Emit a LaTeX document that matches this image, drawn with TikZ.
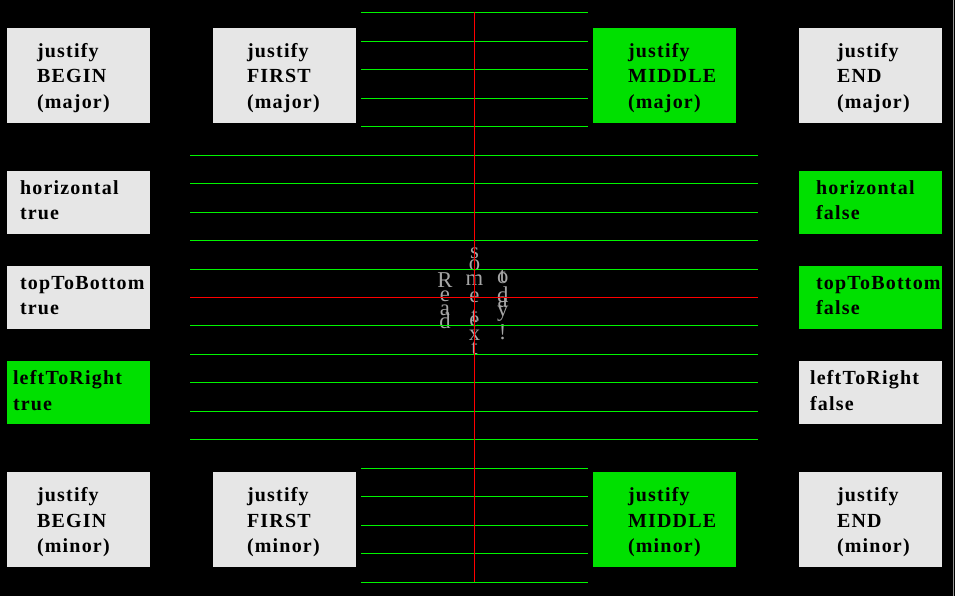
\documentclass[tikz,border=0pt]{standalone}
\usepackage{fontspec}
\setmainfont{Liberation Serif}
\newfontfamily\boxfont{Liberation Serif}[LetterSpace=6]
\usepackage{tikz}

\definecolor{boxgray}{RGB}{230,230,230}
\definecolor{boxgreen}{RGB}{0,224,0}
\definecolor{linegreen}{RGB}{0,245,0}
\definecolor{textgray}{RGB}{165,165,165}
\definecolor{edgegray}{RGB}{150,150,150}

\begin{document}
\begin{tikzpicture}[x=0.75pt,y=-0.75pt,
  offbox/.style={fill=boxgray, minimum width=107.25pt, inner sep=0pt},
  onbox/.style={offbox, fill=boxgreen},
  tallbox/.style={minimum height=71.25pt},
  lowbox/.style={minimum height=47.25pt},
  boxtext/.style={anchor=base west, align=left, inner sep=0pt, font=\boxfont\bfseries\fontsize{15}{19.1}\selectfont},
  vchar/.style={anchor=base, inner sep=0pt, text=textgray, font=\fontsize{17}{17}\selectfont},
  guide/.style={linegreen, line width=0.75pt},
  axis/.style={red, line width=0.75pt}
]
\useasboundingbox (0,0) rectangle (955,596);
\fill[black] (0,0) rectangle (955,596);
\draw[edgegray, line width=0.75pt] (953.5,0) -- (953.5,596);

\node[offbox, tallbox] (jbmaj) at (78.5,75) {};
\node[offbox, tallbox] (jfmaj) at (284.5,75) {};
\node[onbox, tallbox] (jmmaj) at (664.5,75) {};
\node[offbox, tallbox] (jemaj) at (870.5,75) {};
\node[offbox, tallbox] (jbmin) at (78.5,519.5) {};
\node[offbox, tallbox] (jfmin) at (284.5,519.5) {};
\node[onbox, tallbox] (jmmin) at (664.5,519.5) {};
\node[offbox, tallbox] (jemin) at (870.5,519.5) {};
\node[offbox, lowbox] (hortrue) at (78.5,202.5) {};
\node[offbox, lowbox] (ttbtrue) at (78.5,297.5) {};
\node[onbox, lowbox] (ltrtrue) at (78.5,392) {};
\node[onbox, lowbox] (horfalse) at (870.5,202.5) {};
\node[onbox, lowbox] (ttbfalse) at (870.5,297.5) {};
\node[offbox, lowbox] (ltrfalse) at (870.5,392) {};

% base of a multi-line node is its last line
\node[boxtext] (jbmajtxt) at ([shift={(30,81)}]jbmaj.north west) {justify\\BEGIN\\(major)};
\node[boxtext] (jfmajtxt) at ([shift={(34,81)}]jfmaj.north west) {justify\\FIRST\\(major)};
\node[boxtext] (jmmajtxt) at ([shift={(35,81)}]jmmaj.north west) {justify\\MIDDLE\\(major)};
\node[boxtext] (jemajtxt) at ([shift={(38,81)}]jemaj.north west) {justify\\END\\(major)};
\node[boxtext] (jbmintxt) at ([shift={(30,81)}]jbmin.north west) {justify\\BEGIN\\(minor)};
\node[boxtext] (jfmintxt) at ([shift={(34,81)}]jfmin.north west) {justify\\FIRST\\(minor)};
\node[boxtext] (jmmintxt) at ([shift={(35,81)}]jmmin.north west) {justify\\MIDDLE\\(minor)};
\node[boxtext] (jemintxt) at ([shift={(38,81)}]jemin.north west) {justify\\END\\(minor)};
\node[boxtext] (hortruetxt) at ([shift={(13,49)}]hortrue.north west) {horizontal\\true};
\node[boxtext] (ttbtruetxt) at ([shift={(13,49)}]ttbtrue.north west) {topToBottom\\true};
\node[boxtext] (ltrtruetxt) at ([shift={(6,50)}]ltrtrue.north west) {leftToRight\\true};
\node[boxtext] (horfalsetxt) at ([shift={(17,49)}]horfalse.north west) {horizontal\\false};
\node[boxtext] (ttbfalsetxt) at ([shift={(17,49)}]ttbfalse.north west) {topToBottom\\false};
\node[boxtext] (ltrfalsetxt) at ([shift={(11,50)}]ltrfalse.north west) {leftToRight\\false};

\foreach \ch/\yy [count=\i] in {R/287, e/301, a/315, d/328}
  \node[vchar] (read\i) at (445,\yy) {\ch};
\foreach \ch/\yy [count=\i] in {s/258, o/270, m/285, e/302, t/322, e/326, x/340, t/354}
  \node[vchar] (some\i) at (474.5,\yy) {\ch};
\foreach \ch/\yy [count=\i] in {t/282, o/283, d/302, a/307, y/316, !/339}
  \node[vchar] (today\i) at (502.7,\yy) {\ch};

\foreach \yy in {12.5, 41.5, 69.5, 98.5, 126.5, 468.5, 496.5, 525.5, 553.5, 582.5}
  \draw[guide] (361,\yy) -- (588,\yy);
\foreach \yy in {155.5, 183.5, 212.5, 240.5, 269.5, 325.5, 354.5, 382.5, 411.5, 439.5}
  \draw[guide] (190,\yy) -- (758,\yy);
\draw[axis] (190,297.5) -- (758,297.5);
\draw[axis] (474.5,12) -- (474.5,582);
\end{tikzpicture}
\end{document}
